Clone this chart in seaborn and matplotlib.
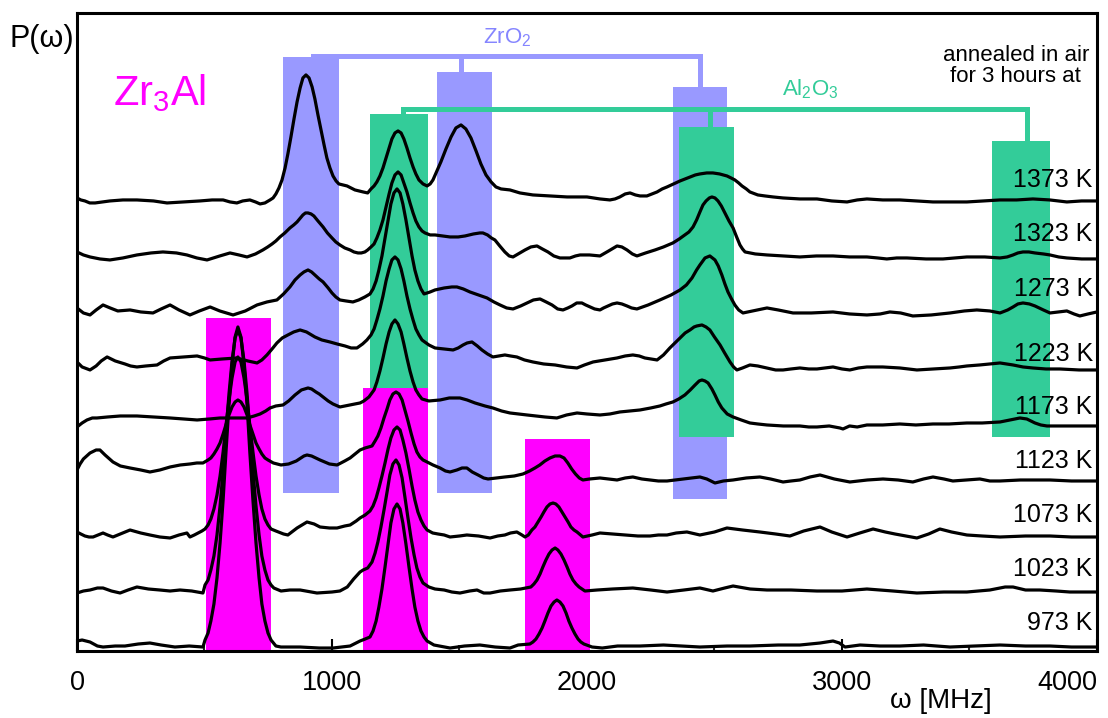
import matplotlib
matplotlib.use("Agg")
import matplotlib.pyplot as plt
import seaborn as sns
import pandas as pd
from matplotlib.ticker import MultipleLocator

# ---------------- data ----------------
temps = ["1373 K", "1323 K", "1273 K", "1223 K", "1173 K", "1123 K", "1073 K", "1023 K", "973 K"]
label_y = [464, 410, 355, 290, 237, 183, 129, 75, 21]
x_ticks = [0, 1000, 2000, 3000, 4000]

# (frequency in MHz, stacked P(omega) in arbitrary units)
s1373 = [(0,453),(15,451),(31,450),(50,448),(71,448),(100,449),(129,450),(180,451),(235,451),(300,450),(353,448),(420,449),(482,450),(530,451),(573,451),(600,449),(627,448),(650,450),(678,451),(700,449),(718,447),(737,448),(757,451),(769,453),(780,457),(792,463),(804,471),(816,483),(827,497),(839,514),(851,532),(863,549),(875,563),(886,573),(898,576),(910,573),(922,564),(933,552),(945,536),(957,521),(969,506),(980,493),(992,483),(1004,475),(1016,470),(1027,467),(1059,465),(1090,461),(1122,459),(1140,458),(1153,462),(1165,465),(1176,469),(1188,475),(1200,483),(1212,493),(1224,503),(1235,512),(1247,518),(1259,520),(1271,518),(1282,512),(1294,503),(1306,493),(1318,484),(1329,477),(1341,471),(1357,467),(1373,465),(1385,467),(1396,471),(1408,478),(1427,489),(1447,502),(1467,514),(1486,523),(1506,526),(1525,522),(1545,513),(1565,500),(1584,487),(1604,476),(1624,469),(1643,464),(1663,462),(1698,461),(1737,458),(1788,456),(1855,455),(1922,454),(2000,454),(2051,452),(2090,451),(2110,452),(2129,454),(2150,457),(2169,458),(2190,456),(2208,455),(2235,455),(2255,457),(2275,459),(2295,462),(2314,464),(2340,467),(2365,470),(2385,472),(2404,474),(2425,476),(2443,477),(2470,478),(2494,478),(2520,477),(2549,475),(2565,473),(2580,471),(2595,468),(2608,465),(2625,462),(2639,459),(2670,456),(2698,455),(2730,454),(2769,453),(2835,452),(2902,452),(2960,450),(3020,449),(3060,451),(3098,452),(3160,451),(3227,451),(3290,450),(3357,449),(3420,449),(3490,449),(3555,450),(3620,451),(3685,451),(3749,452),(3815,451),(3882,449),(3940,450),(4000,450)]

s1323 = [(0,399),(25,396),(51,394),(90,392),(129,391),(180,393),(235,396),(290,398),(337,399),(390,398),(431,396),(470,393),(510,391),(560,395),(600,398),(635,396),(667,394),(700,397),(729,401),(748,404),(765,407),(780,410),(796,414),(815,418),(835,423),(850,426),(863,429),(876,433),(886,436),(896,438),(906,438),(918,437),(929,435),(945,430),(965,424),(982,418),(1000,413),(1015,409),(1031,406),(1050,403),(1071,401),(1086,399),(1102,398),(1115,398),(1129,399),(1140,401),(1153,404),(1165,407),(1176,413),(1188,421),(1200,431),(1212,444),(1224,457),(1235,468),(1247,476),(1259,479),(1271,476),(1282,468),(1294,459),(1306,448),(1318,438),(1329,430),(1341,424),(1353,420),(1365,418),(1385,416),(1404,416),(1435,415),(1463,414),(1495,414),(1522,415),(1555,417),(1580,418),(1592,418),(1610,416),(1625,413),(1639,411),(1658,405),(1678,399),(1695,395),(1710,394),(1730,397),(1757,401),(1780,404),(1804,405),(1825,402),(1847,399),(1870,395),(1894,393),(1915,393),(1933,393),(1955,395),(1973,396),(2010,396),(2051,395),(2085,400),(2118,405),(2137,404),(2157,401),(2178,397),(2196,395),(2230,398),(2267,401),(2300,404),(2337,408),(2362,412),(2384,416),(2400,419),(2416,424),(2430,431),(2443,439),(2455,446),(2467,450),(2480,453),(2490,454),(2502,453),(2514,450),(2527,445),(2541,438),(2557,430),(2573,423),(2587,414),(2600,406),(2610,402),(2620,399),(2660,397),(2706,396),(2770,395),(2835,394),(2900,395),(2965,395),(3030,394),(3098,394),(3140,393),(3176,392),(3215,393),(3255,393),(3330,392),(3396,392),(3445,393),(3490,394),(3560,394),(3620,393),(3648,394),(3671,396),(3690,398),(3710,399),(3733,399),(3757,398),(3790,397),(3816,396),(3850,394),(3882,393),(3940,392),(4000,392)]

s1273 = [(0,343),(25,338),(51,336),(75,341),(102,346),(130,343),(160,340),(208,341),(250,339),(298,338),(330,342),(365,346),(400,341),(443,336),(480,340),(522,344),(560,340),(612,336),(660,340),(706,346),(745,349),(784,351),(810,357),(835,364),(855,371),(875,376),(890,379),(906,381),(920,379),(933,376),(950,372),(965,369),(985,363),(1000,358),(1015,354),(1031,351),(1055,350),(1082,349),(1105,351),(1129,354),(1149,357),(1161,362),(1173,370),(1184,381),(1196,395),(1208,413),(1220,431),(1231,447),(1243,458),(1255,462),(1267,458),(1278,447),(1290,431),(1302,413),(1314,395),(1325,381),(1337,370),(1349,362),(1361,357),(1385,359),(1404,361),(1440,363),(1470,364),(1490,364),(1515,362),(1541,359),(1575,356),(1608,353),(1635,349),(1659,346),(1685,343),(1710,342),(1740,345),(1765,348),(1790,351),(1816,352),(1840,349),(1863,346),(1885,342),(1906,341),(1925,343),(1941,345),(1960,348),(1980,348),(1995,346),(2012,344),(2030,342),(2051,341),(2065,343),(2082,345),(2100,347),(2118,348),(2137,347),(2157,345),(2175,343),(2196,342),(2240,346),(2286,351),(2330,356),(2365,361),(2390,366),(2412,373),(2430,381),(2443,386),(2463,393),(2482,395),(2502,391),(2515,385),(2529,376),(2541,367),(2553,359),(2567,352),(2580,346),(2595,341),(2612,338),(2650,340),(2706,343),(2750,341),(2808,338),(2880,338),(2965,339),(3030,337),(3098,336),(3150,337),(3188,339),(3230,338),(3278,335),(3350,336),(3424,338),(3480,340),(3529,341),(3580,340),(3620,338),(3650,341),(3671,344),(3690,347),(3710,348),(3735,347),(3757,345),(3790,341),(3816,338),(3850,339),(3882,340),(3910,337),(3933,335),(3965,337),(4000,339)]

s1223 = [(0,289),(20,284),(51,281),(75,285),(95,290),(118,294),(150,290),(188,287),(210,285),(235,284),(270,285),(314,286),(340,290),(365,293),(420,294),(471,295),(500,293),(522,291),(570,292),(627,293),(670,290),(706,288),(725,291),(745,296),(765,302),(784,308),(805,313),(827,316),(850,319),(875,321),(900,319),(933,314),(960,311),(992,309),(1020,307),(1051,305),(1075,303),(1098,303),(1120,307),(1137,311),(1153,316),(1165,322),(1176,331),(1188,342),(1200,355),(1212,370),(1224,382),(1235,391),(1247,394),(1259,391),(1271,382),(1282,370),(1294,355),(1306,342),(1318,331),(1329,322),(1341,316),(1353,311),(1380,306),(1404,303),(1440,302),(1475,301),(1495,303),(1514,306),(1530,308),(1549,309),(1570,305),(1588,301),(1610,297),(1631,294),(1655,295),(1678,296),(1700,295),(1725,294),(1755,291),(1788,289),(1830,287),(1875,286),(1920,284),(1961,283),(1990,286),(2024,289),(2070,291),(2118,293),(2150,295),(2180,296),(2205,295),(2227,293),(2250,292),(2275,291),(2300,296),(2325,303),(2345,308),(2365,313),(2385,318),(2404,321),(2420,324),(2431,325),(2451,326),(2467,324),(2482,321),(2500,314),(2522,306),(2540,298),(2561,289),(2575,284),(2588,281),(2610,283),(2639,286),(2670,285),(2706,283),(2740,281),(2769,281),(2800,282),(2835,283),(2870,282),(2902,282),(2935,283),(2965,284),(3000,282),(3031,281),(3065,283),(3098,284),(3160,284),(3227,283),(3260,282),(3294,281),(3360,282),(3424,283),(3460,284),(3490,285),(3540,286),(3580,287),(3620,288),(3645,287),(3671,286),(3710,284),(3749,283),(3800,282),(3855,282),(3930,281),(4000,281)]

s1173 = [(0,224),(20,228),(39,231),(60,233),(78,233),(120,234),(170,235),(235,235),(300,234),(365,233),(420,232),(471,231),(520,232),(561,233),(620,233),(667,233),(695,235),(718,237),(740,240),(757,243),(780,245),(808,246),(830,250),(855,256),(880,261),(906,263),(920,262),(937,259),(950,257),(965,254),(985,250),(1004,247),(1031,244),(1050,245),(1071,246),(1090,247),(1110,248),(1125,250),(1145,254),(1165,261),(1176,269),(1188,280),(1200,293),(1212,307),(1224,319),(1235,327),(1247,331),(1259,327),(1271,319),(1282,307),(1294,293),(1306,280),(1318,269),(1329,261),(1341,256),(1353,252),(1380,250),(1424,251),(1460,253),(1502,253),(1530,251),(1561,248),(1600,245),(1631,243),(1665,240),(1698,238),(1730,237),(1765,236),(1800,235),(1835,234),(1882,233),(1920,236),(1961,238),(2000,237),(2051,236),(2090,237),(2129,239),(2170,240),(2208,241),(2250,243),(2286,245),(2310,247),(2337,249),(2360,252),(2384,256),(2405,261),(2424,266),(2440,270),(2451,271),(2463,270),(2475,268),(2490,262),(2502,256),(2515,249),(2529,243),(2550,237),(2573,234),(2605,231),(2639,228),(2670,227),(2706,226),(2770,225),(2835,225),(2870,224),(2902,224),(2950,225),(2992,223),(3004,222),(3030,225),(3060,224),(3098,226),(3160,226),(3227,227),(3290,226),(3357,227),(3420,227),(3490,228),(3550,228),(3620,229),(3660,231),(3698,233),(3725,232),(3757,228),(3780,226),(3804,225),(3850,225),(3894,225),(4000,225)]

s1123 = [(0,181),(12,187),(25,192),(51,198),(75,201),(90,201),(110,196),(141,189),(170,185),(208,183),(250,181),(286,179),(325,181),(365,184),(405,186),(443,187),(470,188),(494,188),(514,191),(525,193),(537,197),(549,202),(561,208),(573,217),(584,226),(596,236),(608,244),(620,249),(631,251),(643,249),(655,244),(667,236),(678,226),(690,217),(702,208),(714,202),(725,197),(737,193),(749,191),(770,188),(800,186),(830,187),(860,190),(890,195),(902,196),(920,195),(953,191),(990,187),(1020,186),(1050,190),(1071,193),(1095,198),(1110,201),(1130,203),(1157,205),(1169,210),(1180,215),(1192,223),(1204,233),(1216,242),(1227,251),(1239,257),(1251,259),(1263,257),(1275,251),(1286,241),(1298,230),(1310,218),(1322,207),(1333,199),(1345,194),(1357,191),(1373,189),(1396,186),(1424,183),(1445,180),(1463,179),(1490,181),(1510,183),(1529,183),(1550,179),(1573,176),(1595,173),(1612,172),(1645,173),(1678,174),(1715,175),(1749,177),(1775,180),(1796,183),(1815,186),(1835,190),(1855,193),(1875,195),(1894,195),(1910,193),(1925,188),(1940,182),(1955,177),(1970,173),(1984,171),(2010,172),(2051,173),(2085,172),(2118,171),(2150,173),(2180,174),(2215,172),(2247,171),(2280,170),(2314,170),(2345,171),(2376,172),(2410,173),(2443,174),(2470,172),(2502,168),(2535,170),(2573,171),(2625,173),(2678,174),(2720,172),(2769,169),(2800,170),(2835,171),(2875,174),(2914,176),(2970,172),(3031,169),(3100,171),(3161,172),(3220,171),(3278,169),(3320,172),(3357,174),(3400,172),(3435,170),(3490,171),(3541,172),(3580,170),(3620,170),(3700,171),(3816,171),(3900,170),(4000,170)]

s1073 = [(0,119),(15,117),(31,115),(47,114),(63,114),(82,116),(102,118),(120,116),(141,114),(170,117),(208,121),(250,118),(286,116),(325,114),(365,113),(400,116),(431,118),(443,114),(460,116),(475,118),(490,120),(502,122),(514,126),(525,132),(537,142),(549,156),(561,175),(573,199),(584,225),(596,251),(608,273),(620,289),(631,294),(643,289),(655,273),(667,251),(678,225),(690,199),(702,175),(714,156),(725,142),(737,132),(749,126),(761,122),(780,120),(810,117),(827,116),(863,123),(902,129),(930,127),(953,124),(990,123),(1020,123),(1050,125),(1071,126),(1095,130),(1110,133),(1130,136),(1149,140),(1161,145),(1173,153),(1184,163),(1196,175),(1208,188),(1220,202),(1231,213),(1243,221),(1255,224),(1267,221),(1278,211),(1290,198),(1302,182),(1314,165),(1325,151),(1337,139),(1349,131),(1361,125),(1373,121),(1395,118),(1416,117),(1440,116),(1463,114),(1500,115),(1529,116),(1575,115),(1620,113),(1650,115),(1678,116),(1700,118),(1725,119),(1745,116),(1757,114),(1770,116),(1784,121),(1796,124),(1808,129),(1820,134),(1831,139),(1843,144),(1855,147),(1867,148),(1878,147),(1890,144),(1902,139),(1914,134),(1926,129),(1937,124),(1949,121),(1961,119),(1984,114),(2020,116),(2051,118),(2100,117),(2149,116),(2200,115),(2247,115),(2280,116),(2314,116),(2350,118),(2392,119),(2443,116),(2500,119),(2549,123),(2610,121),(2678,119),(2740,117),(2796,115),(2850,120),(2914,124),(2960,119),(3020,114),(3070,118),(3122,122),(3170,119),(3208,117),(3250,115),(3294,113),(3340,117),(3384,122),(3430,119),(3490,116),(3550,115),(3620,114),(3720,115),(3816,115),(3900,114),(4000,114)]

s1023 = [(0,58),(25,60),(51,61),(80,63),(102,63),(135,60),(169,58),(200,61),(235,64),(280,62),(325,61),(365,60),(404,61),(450,60),(494,58),(502,66),(514,71),(525,81),(537,95),(549,116),(561,145),(573,180),(584,218),(596,257),(608,290),(620,313),(631,321),(643,313),(655,290),(667,257),(678,218),(690,180),(702,145),(714,116),(725,95),(737,81),(749,71),(761,66),(772,63),(800,60),(835,61),(875,61),(941,58),(1000,59),(1031,60),(1060,64),(1085,72),(1110,79),(1122,81),(1140,83),(1157,89),(1169,98),(1180,109),(1192,124),(1204,141),(1216,159),(1227,176),(1239,187),(1251,191),(1263,186),(1275,173),(1286,154),(1298,133),(1310,113),(1322,96),(1333,83),(1345,74),(1357,68),(1380,64),(1404,62),(1440,61),(1470,59),(1502,58),(1540,60),(1569,61),(1595,58),(1620,58),(1660,60),(1698,61),(1740,62),(1780,64),(1792,67),(1804,71),(1816,77),(1827,84),(1839,91),(1851,97),(1863,101),(1875,103),(1886,101),(1898,97),(1910,91),(1922,84),(1933,77),(1945,71),(1957,67),(1969,64),(1992,60),(2040,61),(2100,62),(2180,63),(2250,61),(2314,59),(2380,61),(2443,63),(2494,60),(2540,63),(2573,65),(2640,62),(2706,61),(2800,61),(2902,60),(3000,60),(3098,62),(3200,60),(3294,58),(3400,59),(3490,59),(3580,61),(3640,64),(3671,64),(3720,61),(3776,61),(3840,60),(3894,59),(4000,59)]

s973 = [(0,10),(20,11),(51,9),(80,5),(102,4),(150,5),(188,5),(240,7),(286,8),(330,6),(384,4),(440,5),(494,4),(502,11),(514,18),(525,30),(537,47),(549,73),(561,108),(573,151),(584,198),(596,246),(608,286),(620,314),(631,324),(643,314),(655,286),(667,246),(678,198),(690,151),(702,108),(714,73),(725,47),(737,30),(749,18),(761,11),(780,5),(800,4),(875,4),(950,3),(1004,3),(1071,5),(1110,10),(1130,12),(1149,14),(1161,20),(1173,30),(1184,44),(1196,62),(1208,84),(1220,107),(1231,128),(1243,142),(1255,147),(1267,142),(1278,128),(1290,107),(1302,84),(1314,62),(1325,44),(1337,30),(1349,20),(1361,14),(1373,10),(1400,6),(1463,3),(1520,5),(1580,6),(1640,4),(1698,3),(1730,6),(1776,7),(1788,9),(1800,12),(1812,17),(1824,23),(1835,30),(1847,38),(1859,45),(1871,49),(1882,51),(1894,49),(1906,45),(1918,38),(1929,30),(1941,23),(1953,17),(1965,12),(1976,9),(1988,7),(2020,4),(2060,3),(2120,5),(2208,5),(2300,6),(2443,4),(2550,5),(2639,5),(2750,6),(2835,6),(2914,8),(2965,10),(2990,8),(3012,4),(3071,6),(3150,5),(3227,5),(3320,6),(3424,4),(3520,5),(3620,6),(3720,5),(3816,5),(3900,4),(4000,4)]

# phase windows (MHz range and vertical extent)
zro2_lo = [808, 1412, 2337]
zro2_hi = [1027, 1627, 2549]
zro2_bottom = [158, 158, 152]
zro2_top = [594, 579, 564]

al2o3_lo = [1149, 2361, 3588]
al2o3_hi = [1376, 2576, 3816]
al2o3_bottom = [263, 214, 214]
al2o3_top = [537, 524, 510]

zr3al_lo = [506, 1122, 1757]
zr3al_hi = [761, 1376, 2012]
zr3al_bottom = [0, 0, 0]
zr3al_top = [333, 263, 212]

zro2_bracket_x = [925, 1506, 2443]
zro2_bracket_y = 595
al2o3_bracket_x = [1278, 2482, 3725]
al2o3_bracket_y = 542

# ---------------- build long table ----------------
series = [s1373, s1323, s1273, s1223, s1173, s1123, s1073, s1023, s973]
rows = []
for name, pts in zip(temps, series):
    for xv, yv in pts:
        rows.append({"T": name, "freq": xv, "P": yv})
df = pd.DataFrame(rows)

# ---------------- style ----------------
sns.set_theme(style="white")
plt.rcParams["font.family"] = ["Liberation Sans", "DejaVu Sans"]
plt.rcParams["mathtext.fontset"] = "custom"
plt.rcParams["mathtext.rm"] = "Liberation Sans"
plt.rcParams["mathtext.it"] = "Liberation Sans:italic"
plt.rcParams["mathtext.bf"] = "Liberation Sans:bold"

BLUE = "#9999ff"
GREEN = "#33cc99"
MAGENTA = "#ff00ff"

fig = plt.figure(figsize=(11.08, 7.18), dpi=100)
ax = fig.add_axes([0.0695, 0.0933, 0.9205, 0.8887])


def boxes(lo, hi, bot, top, color):
    ax.bar(lo, [t - b for t, b in zip(top, bot)],
           width=[h - l for h, l in zip(hi, lo)], bottom=bot, align="edge",
           color=color, linewidth=0, zorder=1)


boxes(zro2_lo, zro2_hi, zro2_bottom, zro2_top, BLUE)
boxes(al2o3_lo, al2o3_hi, al2o3_bottom, al2o3_top, GREEN)
boxes(zr3al_lo, zr3al_hi, zr3al_bottom, zr3al_top, MAGENTA)

# brackets joining the windows of one phase
ax.plot([zro2_bracket_x[0], zro2_bracket_x[-1]], [zro2_bracket_y] * 2, color=BLUE, lw=3.6,
        solid_capstyle="projecting", zorder=1.5)
for bx, bt in zip(zro2_bracket_x, zro2_top):
    ax.plot([bx, bx], [zro2_bracket_y, bt], color=BLUE, lw=3.6, solid_capstyle="butt", zorder=1.5)
ax.plot([al2o3_bracket_x[0], al2o3_bracket_x[-1]], [al2o3_bracket_y] * 2, color=GREEN, lw=3.6,
        solid_capstyle="projecting", zorder=1.6)
for bx, bt in zip(al2o3_bracket_x, al2o3_top):
    ax.plot([bx, bx], [al2o3_bracket_y, bt], color=GREEN, lw=3.6, solid_capstyle="butt", zorder=1.6)

# spectra
sns.lineplot(data=df, x="freq", y="P", hue="T", palette=["black"] * len(temps),
             estimator=None, sort=False, legend=False, linewidth=2.3, ax=ax, zorder=3)

ax.set_xlim(0, 4000)
ax.set_ylim(0, 638)
ax.set_xlabel("")
ax.set_ylabel("")
ax.set_yticks([])
ax.set_xticks(x_ticks)
ax.set_xticklabels([str(t) for t in x_ticks])
ax.xaxis.set_minor_locator(MultipleLocator(500))
ax.tick_params(axis="x", which="major", direction="in", length=8.5, width=1.5,
               labelsize=19.5, pad=14, colors="black", bottom=True)
ax.tick_params(axis="x", which="minor", direction="in", length=4.5, width=1.5, bottom=True)
ax.get_xticklabels()[-1].set_horizontalalignment("right")
for s in ax.spines.values():
    s.set_linewidth(2.2)
    s.set_color("black")

# labels
for name, yv in zip(temps, label_y):
    ax.text(3984, yv, name, ha="right", va="baseline", fontsize=18, color="black", zorder=4)

ax.text(3682, 585, "annealed in air\nfor 3 hours at", ha="center", va="center",
        fontsize=16, linespacing=1.05, color="black")
ax.text(141, 558, r"Zr$_{3}$Al", ha="left", va="center", fontsize=30, color=MAGENTA)
ax.text(1686, 613, r"ZrO$_{2}$", ha="center", va="center", fontsize=16, color="#8585ff")
ax.text(2878, 562, r"Al$_{2}$O$_{3}$", ha="center", va="center", fontsize=16, color=GREEN)

fig.text(10 / 1108, 1 - 39 / 718, "P(ω)", ha="left", va="center", fontsize=22, color="black")
fig.text(941 / 1108, 1 - 701 / 718, "ω [MHz]", ha="center", va="center", fontsize=20, color="black")

fig.savefig("out.png", dpi=100)
